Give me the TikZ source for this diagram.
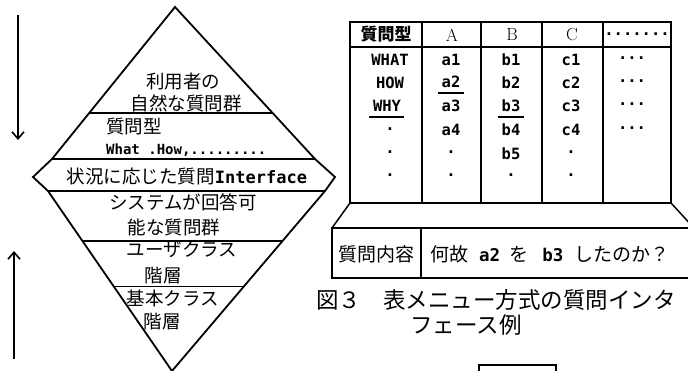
\documentclass[tikz,border=0pt]{standalone}
\usepackage{fontspec}
\newfontfamily\jp{Noto Sans CJK JP}
\newfontfamily\mono{DejaVu Sans Mono}
\usetikzlibrary{arrows.meta,calc}
\begin{document}
\begin{tikzpicture}[x=1pt,y=-1pt,
  thick line/.style={line width=1.8pt, line join=miter},
  rule/.style={line width=1.5pt},
  under/.style={line width=1.4pt},
  arr/.style={line width=1.6pt, -{Straight Barb[length=7pt,width=12pt,line width=1.6pt]}},
  dtext/.style={font=\jp\fontsize{18.5}{20}\selectfont, inner sep=0pt},
  dmono/.style={font=\mono\bfseries\fontsize{14}{16}\selectfont, inner sep=0pt},
  ttext/.style={font=\mono\bfseries\fontsize{15.5}{17}\selectfont, inner sep=0pt},
  htext/.style={font=\fontsize{17.5}{19}\selectfont, inner sep=0pt},
  qtext/.style={font=\jp\fontsize{19}{21}\selectfont, inner sep=0pt},
  ctext/.style={font=\jp\fontsize{22.5}{24}\selectfont, inner sep=0pt}]
\useasboundingbox (0,0) rectangle (688,371);
\begin{scope}
\clip (0,0) rectangle (688,371);
% ---------- arrows ----------
\coordinate (d1) at (18,15);
\coordinate (d2) at (18,140);
\coordinate (u1) at (14,359);
\coordinate (u2) at (14,251);
\draw[arr] (d1) -- (d2);
\draw[arr] (u1) -- (u2);
% ---------- diamond ----------
\coordinate (T) at (175,7);
\coordinate (Lm) at (52,159);
\coordinate (Lt) at (33,177);
\coordinate (Lb) at (48,191);
\coordinate (B) at (172,371);
\coordinate (Rb) at (325,191);
\coordinate (Rt) at (335,177);
\coordinate (Rm) at (315,159);
\draw[thick line] (T) -- (Lm) -- (Lt) -- (Lb) -- (B) -- (Rb) -- (Rt) -- (Rm) -- cycle;
\draw[rule] ($(T)!0.697!(Lm)$) -- ($(T)!0.697!(Rm)$);
\draw[rule] (Lm) -- (Rm);
\draw[rule] (Lb) -- (Rb);
\draw[rule] ($(Lb)!0.279!(B)$) -- ($(Rb)!0.279!(B)$);
\draw[rule] ($(Lb)!0.53!(B)$) -- ($(Rb)!0.53!(B)$);
\node[dtext] (t1) at (183,82) {利用者の};
\node[dtext] (t2) at (186,103) {自然な質問群};
\node[dtext, anchor=west] (t3) at (106,127) {質問型};
\node[dmono, anchor=west] (t4) at (106,150) {What .How,.........};
\node[dtext] (t5) at (187,176) {状況に応じた質問{\mono\bfseries\fontsize{17}{19}\selectfont Interface}};
\node[dtext] (t6) at (183,202) {システムが回答可};
\node[dtext] (t7) at (174,227) {能な質問群};
\node[dtext] (t8) at (182,250) {ユーザクラス};
\node[dtext] (t9) at (163,276) {階層};
\node[dtext] (t10) at (173,298) {基本クラス};
\node[dtext] (t11) at (162,322) {階層};
% ---------- table ----------
\draw[thick line] (350,22) rectangle (671,203);
\draw[rule] (350,47) -- (671,47);
\foreach \x in {422,481,542,603} \draw[rule] (\x,22) -- (\x,203);
\node[font=\jp\bfseries\fontsize{17}{19}\selectfont, inner sep=0pt] (h0) at (386,34) {質問型};
\node[htext] (hA) at (452,35) {A};
\node[htext] (hB) at (512,35) {B};
\node[htext] (hC) at (572,35) {C};
\node[ttext] (hD) at (637,34) {.......};
% rows
\node[ttext] (r11) at (390,60) {WHAT};
\node[ttext] (r21) at (390,83) {HOW};
\node[ttext] (r31) at (387,106) {WHY};
\node[ttext] (r41) at (390,131) {·};
\node[ttext] (r51) at (390,154) {·};
\node[ttext] (r61) at (390,177) {·};
\node[ttext] (r12) at (451,60) {a1};
\node[ttext] (r22) at (451,82) {a2};
\node[ttext] (r32) at (451,106) {a3};
\node[ttext] (r42) at (451,130) {a4};
\node[ttext] (r52) at (451,154) {·};
\node[ttext] (r62) at (451,177) {·};
\node[ttext] (r13) at (511,60) {b1};
\node[ttext] (r23) at (511,83) {b2};
\node[ttext] (r33) at (511,106) {b3};
\node[ttext] (r43) at (511,130) {b4};
\node[ttext] (r53) at (511,154) {b5};
\node[ttext] (r63) at (511,177) {·};
\node[ttext] (r14) at (571,60) {c1};
\node[ttext] (r24) at (571,83) {c2};
\node[ttext] (r34) at (571,106) {c3};
\node[ttext] (r44) at (571,130) {c4};
\node[ttext] (r54) at (571,154) {·};
\node[ttext] (r64) at (571,177) {·};
\node[ttext] (r15) at (632,60) {···};
\node[ttext] (r25) at (632,83) {···};
\node[ttext] (r35) at (632,106) {···};
\node[ttext] (r45) at (632,130) {···};
\draw[under] (438,93) -- (464,93);
\draw[under] (369,117) -- (404,117);
\draw[under] (498,117) -- (524,117);
% ---------- question box ----------
\draw[rule] (350,203) -- (332,228);
\draw[rule] (671,203) -- (694,228);
\draw[thick line] (700,228) -- (332,228) -- (332,278) -- (700,278);
\draw[rule] (421,228) -- (421,278);
\node[qtext] (q0) at (376,254) {質問内容};
\node[qtext, anchor=west] (q1) at (430,254) {何故\hspace{11pt}{\mono\bfseries\fontsize{17.5}{19}\selectfont a2}\hspace{9pt}を\hspace{14pt}{\mono\bfseries\fontsize{17.5}{19}\selectfont b3}\hspace{11pt}したのか？};
% ---------- caption ----------
\node[ctext, anchor=west] (c0) at (316,300) {図３};
\node[ctext, anchor=west] (c1) at (383,300) {表メニュー方式の質問インタ};
\node[ctext, anchor=west] (c2) at (410,325) {フェース例};
% ---------- small box ----------
\draw[thick line] (479,380) -- (479,365) -- (556,365) -- (556,380);
\end{scope}
\end{tikzpicture}
\end{document}
